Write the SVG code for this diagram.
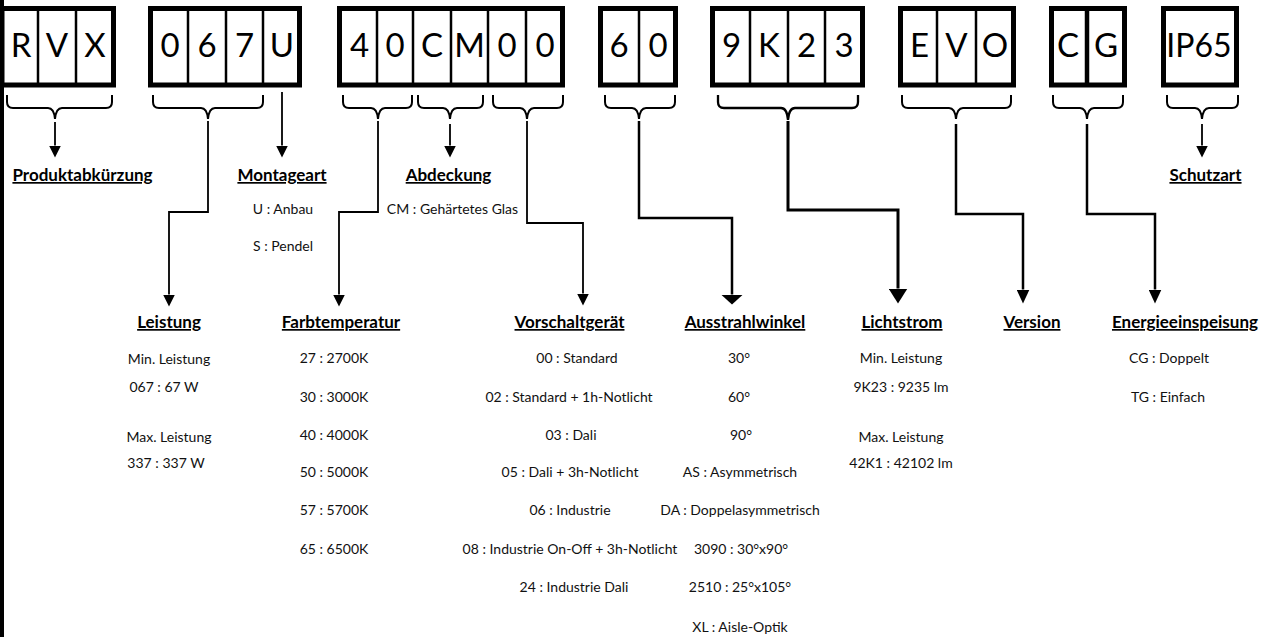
<svg xmlns="http://www.w3.org/2000/svg" width="1271" height="637" viewBox="0 0 1271 637">
<style>
.box{fill:#fff;stroke:#000;stroke-width:5}
.div{stroke:#000;stroke-width:2.5}
.ch{font-family:Lato,"Liberation Sans",sans-serif;font-size:33px;fill:#000;text-anchor:middle}
.hd{font-family:Lato,"Liberation Sans",sans-serif;font-size:17px;font-weight:bold;fill:#000;text-anchor:middle;text-decoration:underline}
.tx{font-family:Lato,"Liberation Sans",sans-serif;font-size:14px;fill:#111;text-anchor:middle}
.br{fill:none;stroke:#000;stroke-width:2}
.c1{fill:none;stroke:#000;stroke-width:1.8}
.c2{fill:none;stroke:#000;stroke-width:2.5}
.c3{fill:none;stroke:#000;stroke-width:3}
</style>
<defs>
<marker id="arrS" markerUnits="userSpaceOnUse" viewBox="0 0 12 12" markerWidth="12" markerHeight="12" refX="0" refY="6" orient="auto"><path d="M0,0 L12,6 L0,12 Z" fill="#000"/></marker>
<marker id="arrW" markerUnits="userSpaceOnUse" viewBox="0 0 10 22" markerWidth="10" markerHeight="22" refX="0" refY="11" orient="auto"><path d="M0,0 L10,11 L0,22 Z" fill="#000"/></marker>
<marker id="arrB" markerUnits="userSpaceOnUse" viewBox="0 0 15 19" markerWidth="15" markerHeight="19" refX="0" refY="9.5" orient="auto"><path d="M0,0 L15,9.5 L0,19 Z" fill="#000"/></marker>
<marker id="arrT" markerUnits="userSpaceOnUse" viewBox="0 0 14 13" markerWidth="14" markerHeight="13" refX="0" refY="6.5" orient="auto"><path d="M0,0 L14,6.5 L0,13 Z" fill="#000"/></marker>
</defs>
<rect x="0" y="0" width="1271" height="637" fill="#fff"/>
<rect x="0" y="0" width="4" height="637" fill="#000"/>

<g id="box-rvx">
<rect class="box" x="2" y="8.5" width="111.5" height="76.5"/>
<line class="div" x1="38" y1="8.5" x2="38" y2="85"/>
<line class="div" x1="76" y1="8.5" x2="76" y2="85"/>
<text class="ch" x="21" y="57">R</text><text class="ch" x="57" y="57">V</text><text class="ch" x="95" y="57">X</text>
</g>
<g id="box-067u">
<rect class="box" x="150.5" y="8.5" width="149" height="76.5"/>
<line class="div" x1="188" y1="8.5" x2="188" y2="85"/>
<line class="div" x1="226" y1="8.5" x2="226" y2="85"/>
<line class="div" x1="263" y1="8.5" x2="263" y2="85"/>
<text class="ch" x="170" y="57">0</text><text class="ch" x="207" y="57">6</text><text class="ch" x="244.5" y="57">7</text><text class="ch" x="282" y="57">U</text>
</g>
<g id="box-40cm00">
<rect class="box" x="339.5" y="8.5" width="223" height="76.5"/>
<line class="div" x1="377" y1="8.5" x2="377" y2="85"/>
<line class="div" x1="413" y1="8.5" x2="413" y2="85"/>
<line class="div" x1="451" y1="8.5" x2="451" y2="85"/>
<line class="div" x1="488" y1="8.5" x2="488" y2="85"/>
<line class="div" x1="526" y1="8.5" x2="526" y2="85"/>
<text class="ch" x="359.5" y="57">4</text><text class="ch" x="395" y="57">0</text><text class="ch" x="432" y="57">C</text><text class="ch" x="469.5" y="57">M</text><text class="ch" x="507" y="57">0</text><text class="ch" x="545" y="57">0</text>
</g>
<g id="box-60">
<rect class="box" x="600.5" y="8.5" width="75" height="76.5"/>
<line class="div" x1="639" y1="8.5" x2="639" y2="85"/>
<text class="ch" x="619" y="57">6</text><text class="ch" x="658" y="57">0</text>
</g>
<g id="box-9k23">
<rect class="box" x="712.5" y="8.5" width="150" height="76.5"/>
<line class="div" x1="750" y1="8.5" x2="750" y2="85"/>
<line class="div" x1="788" y1="8.5" x2="788" y2="85"/>
<line class="div" x1="825" y1="8.5" x2="825" y2="85"/>
<text class="ch" x="731.5" y="57">9</text><text class="ch" x="769" y="57">K</text><text class="ch" x="806.5" y="57">2</text><text class="ch" x="844" y="57">3</text>
</g>
<g id="box-evo">
<rect class="box" x="900.5" y="8.5" width="113" height="76.5"/>
<line class="div" x1="937" y1="8.5" x2="937" y2="85"/>
<line class="div" x1="976" y1="8.5" x2="976" y2="85"/>
<text class="ch" x="919.5" y="57">E</text><text class="ch" x="956.5" y="57">V</text><text class="ch" x="995" y="57">O</text>
</g>
<g id="box-cg">
<rect class="box" x="1051.5" y="8.5" width="73" height="76.5"/>
<line class="div" x1="1087" y1="8.5" x2="1087" y2="85" style="stroke-width:4.5"/>
<text class="ch" x="1068" y="57">C</text><text class="ch" x="1106" y="57">G</text>
</g>
<g id="box-ip65">
<rect class="box" x="1163.5" y="8.5" width="73" height="76.5"/>
<text class="ch" x="1199" y="57" style="font-size:32px">IP65</text>
</g>

<g id="connectors">
<path class="br" d="M7,95 L7,102 Q7,108 13,108 L48,108 Q54,108 55,119 Q56,108 62,108 L106,108 Q112,108 112,102 L112,95"/>
<path class="br" d="M153,95 L153,102 Q153,108 159,108 L201,108 Q207,108 208,119 Q209,108 215,108 L257,108 Q263,108 263,102 L263,95"/>
<path class="br" d="M343,95 L343,102 Q343,108 349,108 L371,108 Q377,108 378,119 Q379,108 385,108 L406,108 Q412,108 412,102 L412,95"/>
<path class="br" d="M418,95 L418,102 Q418,108 424,108 L443,108 Q449,108 450,119 Q451,108 457,108 L477,108 Q483,108 483,102 L483,95"/>
<path class="br" d="M493,95 L493,102 Q493,108 499,108 L520,108 Q526,108 527,119 Q528,108 534,108 L557,108 Q563,108 563,102 L563,95"/>
<path class="br" d="M605,95 L605,102 Q605,108 611,108 L632,108 Q638,108 639,119 Q640,108 646,108 L669,108 Q675,108 675,102 L675,95"/>
<path class="br" d="M718,95 L718,102 Q718,108 724,108 L781,108 Q787,108 788,120 Q789,108 795,108 L852,108 Q858,108 858,102 L858,95" style="stroke-width:2.3"/>
<path class="br" d="M902,95 L902,102 Q902,108 908,108 L949,108 Q955,108 956,119 Q957,108 963,108 L1005,108 Q1011,108 1011,102 L1011,95"/>
<path class="br" d="M1053,95 L1053,102 Q1053,108 1059,108 L1080,108 Q1086,108 1087,119 Q1088,108 1094,108 L1117,108 Q1123,108 1123,102 L1123,95"/>
<path class="br" d="M1167,95 L1167,102 Q1167,108 1173,108 L1195,108 Q1201,108 1202,119 Q1203,108 1209,108 L1232,108 Q1238,108 1238,102 L1238,95"/>

<path class="c1" d="M55,122 L55,145.5" marker-end="url(#arrS)"/>
<path class="c1" d="M282,92 L282,145.5" marker-end="url(#arrS)"/>
<path class="c1" d="M450,124 L450,145.5" marker-end="url(#arrS)"/>
<path class="c1" d="M1202,124 L1202,145.5" marker-end="url(#arrS)"/>
<path class="c1" d="M208,121 L208,212 L169,212 L169,294.5" marker-end="url(#arrS)"/>
<path class="c1" d="M378,121 L378,212 L339,212 L339,294.5" marker-end="url(#arrS)"/>
<path class="c1" d="M527,121 L527,223 L583,223 L583,293.5" marker-end="url(#arrS)"/>
<path class="c2" d="M639,121 L639,218 L732,218 L732,294.5" marker-end="url(#arrW)"/>
<path class="c3" d="M788,121 L788,210 L898,210 L898,288.5" marker-end="url(#arrB)"/>
<path class="c2" d="M956,124 L956,214 L1023,214 L1023,289.5" marker-end="url(#arrT)"/>
<path class="c2" d="M1087,124 L1087,214 L1155,214 L1155,289.5" marker-end="url(#arrT)"/>
</g>

<g id="label-produktabkuerzung"><text class="hd" x="82.5" y="181">Produktabkürzung</text></g>
<g id="label-montageart">
<text class="hd" x="282" y="181">Montageart</text>
<text class="tx" x="283" y="214">U : Anbau</text>
<text class="tx" x="283" y="251">S : Pendel</text>
</g>
<g id="label-abdeckung">
<text class="hd" x="448.5" y="181">Abdeckung</text>
<text class="tx" x="452.5" y="214">CM : Gehärtetes Glas</text>
</g>
<g id="label-schutzart"><text class="hd" x="1205.5" y="181">Schutzart</text></g>

<g id="label-leistung">
<text class="hd" x="169" y="328">Leistung</text>
<text class="tx" x="169" y="364">Min. Leistung</text>
<text class="tx" x="164" y="392">067 : 67 W</text>
<text class="tx" x="169" y="442">Max. Leistung</text>
<text class="tx" x="166" y="468">337 : 337 W</text>
</g>
<g id="label-farbtemperatur">
<text class="hd" x="341" y="328">Farbtemperatur</text>
<text class="tx" x="334" y="363">27 : 2700K</text>
<text class="tx" x="334" y="402">30 : 3000K</text>
<text class="tx" x="334" y="440">40 : 4000K</text>
<text class="tx" x="334" y="477">50 : 5000K</text>
<text class="tx" x="334" y="515">57 : 5700K</text>
<text class="tx" x="334" y="554">65 : 6500K</text>
</g>
<g id="label-vorschaltgeraet">
<text class="hd" x="569.5" y="328">Vorschaltgerät</text>
<text class="tx" x="577" y="363">00 : Standard</text>
<text class="tx" x="569" y="402">02 : Standard + 1h-Notlicht</text>
<text class="tx" x="571" y="440">03 : Dali</text>
<text class="tx" x="570" y="477">05 : Dali + 3h-Notlicht</text>
<text class="tx" x="570" y="515">06 : Industrie</text>
<text class="tx" x="570" y="554">08 : Industrie On-Off + 3h-Notlicht</text>
<text class="tx" x="574" y="592">24 : Industrie Dali</text>
</g>
<g id="label-ausstrahlwinkel">
<text class="hd" x="745" y="328">Ausstrahlwinkel</text>
<text class="tx" x="739" y="363">30°</text>
<text class="tx" x="739" y="402">60°</text>
<text class="tx" x="741" y="440">90°</text>
<text class="tx" x="740" y="477">AS : Asymmetrisch</text>
<text class="tx" x="740" y="515">DA : Doppelasymmetrisch</text>
<text class="tx" x="741" y="554">3090 : 30°x90°</text>
<text class="tx" x="740" y="592">2510 : 25°x105°</text>
<text class="tx" x="740" y="632">XL : Aisle-Optik</text>
</g>
<g id="label-lichtstrom">
<text class="hd" x="902" y="328">Lichtstrom</text>
<text class="tx" x="901" y="363">Min. Leistung</text>
<text class="tx" x="901" y="392">9K23 : 9235 lm</text>
<text class="tx" x="901" y="442">Max. Leistung</text>
<text class="tx" x="901" y="468">42K1 : 42102 lm</text>
</g>
<g id="label-version"><text class="hd" x="1032" y="328">Version</text></g>
<g id="label-energieeinspeisung">
<text class="hd" x="1185" y="328">Energieeinspeisung</text>
<text class="tx" x="1169" y="363">CG : Doppelt</text>
<text class="tx" x="1168" y="402">TG : Einfach</text>
</g>
</svg>
